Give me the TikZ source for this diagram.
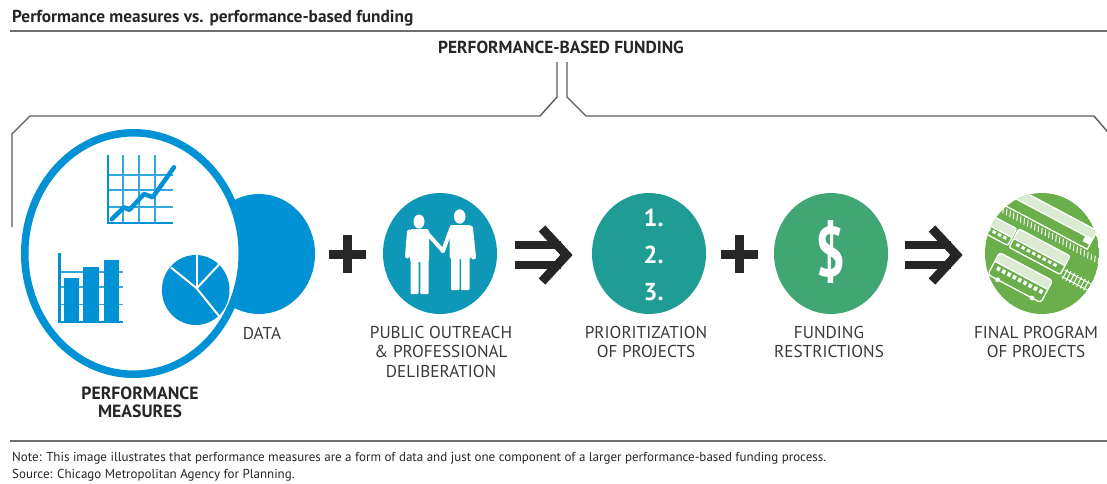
\documentclass[tikz,border=0pt]{standalone}
\usepackage{fontspec}
\newfontfamily\condfont{PT Sans}
\definecolor{pmblue}{HTML}{0092D4}
\definecolor{outreachblue}{HTML}{0E97B6}
\definecolor{priorteal}{HTML}{1F9D95}
\definecolor{fundgreen}{HTML}{40A674}
\definecolor{finalgreen}{HTML}{6BAF4C}
\definecolor{linegray}{HTML}{5A5A5A}
\definecolor{rulegray}{HTML}{6E6E6E}
\definecolor{textgray}{HTML}{3A3A3A}
\definecolor{titlegray}{HTML}{262626}
\tikzset{
  titletext/.style={font=\condfont\bfseries\fontsize{17.3}{19}\selectfont, text=titlegray, inner sep=0pt},
  headtext/.style={font=\condfont\bfseries\fontsize{17.4}{19}\selectfont, text=titlegray, inner sep=0pt},
  lbl/.style={font=\condfont\fontsize{17.2}{19.5}\selectfont, text=textgray, inner sep=0pt, align=center},
  boldlbl/.style={font=\condfont\bfseries\fontsize{17.7}{18}\selectfont, text=titlegray, inner sep=0pt, align=center},
  foot/.style={font=\condfont\fontsize{13}{14}\selectfont, text=titlegray, inner sep=0pt},
  numtext/.style={font=\condfont\bfseries\fontsize{24.5}{25}\selectfont, text=white, inner sep=0pt, anchor=base west},
  rulestyle/.style={draw=rulegray, line width=2.2pt},
  bracket/.style={draw=linegray, line width=1.4pt, line join=miter},
  gridline/.style={draw=pmblue!80, line width=1.6pt},
  trainline/.style={draw=white, line width=1.3pt},
  roof/.style={fill=white!75!finalgreen},
  tie/.style={draw=white, line width=1pt},
  plusbar/.style={fill=black!85},
  arrowbar/.style={fill=black!85},
}
\begin{document}
\begin{tikzpicture}[x=1pt,y=-1pt]
\useasboundingbox (0,0) rectangle (1107,483);

% title and rules
\node[titletext, anchor=base west] (title) at (12,22) {Performance measures vs. performance-based funding};
\draw[rulestyle] (10,31) -- (1107,31);
\draw[rulestyle] (10,441) -- (1107,441);

% bracket spanning the whole process
\node[headtext, anchor=base] (pbf) at (561,53) {PERFORMANCE-BASED FUNDING};
\coordinate (bl0) at (557,62);
\coordinate (br0) at (567,62);
\coordinate (lend) at (12,227);
\coordinate (rend) at (1112,137);
\draw[bracket] (bl0) -- (557,97) -- (540,116) -- (30,116) -- (12,134) -- (lend);
\draw[bracket] (br0) -- (567,97) -- (586,116) -- (1094,116) -- (rend);

% data disc and performance measures ring
\coordinate (data) at (259,254);
\coordinate (pm) at (133.5,253.5);
\fill[pmblue] (data) ellipse [x radius=56, y radius=60];
\draw[draw=pmblue, fill=white, line width=7.5pt] (pm) ellipse [x radius=108.75, y radius=120.75];

% line chart
\foreach \gx in {123,139,155} \draw[gridline] (\gx,155) -- (\gx,223);
\foreach \gy in {175,190,207} \draw[gridline] (108,\gy) -- (173,\gy);
\draw[draw=pmblue, line width=2.4pt] (108,155) -- (108,223) -- (173,223);
\draw[draw=pmblue, line width=4.5pt, line cap=round, line join=round]
  (111.7,219.3) -- (124,207.3) -- (129.3,210) -- (144,194) -- (152.7,197.3) -- (174,167.3);

% bar chart
\foreach \gy in {271.7,286.7,304.3} \draw[gridline] (59,\gy) -- (122.7,\gy);
\fill[pmblue] (64,278.3) rectangle (79,321.7);
\fill[pmblue] (83.3,266.7) rectangle (99,321.7);
\fill[pmblue] (104,260) rectangle (119.3,321.7);
\draw[draw=pmblue, line width=2.4pt] (59.3,252.7) -- (59.3,321.7) -- (122.7,321.7);

% pie chart
\coordinate (pie) at (196.7,288.3);
\fill[pmblue] (195.7,290) ellipse [x radius=33.8, y radius=35];
\draw[draw=white, line width=2pt] (pie) -- (196.7,254);
\draw[draw=white, line width=2pt] (pie) -- (219,264.5);
\draw[draw=white, line width=2pt] (171,267.5) -- (pie) -- (219,316);

\node[lbl, anchor=north] (datalbl) at (262,327) {DATA};
\node[boldlbl, anchor=north] (pmlbl) at (140,387) {PERFORMANCE\\MEASURES};

% plus signs
\foreach \px in {347.5,739.5} {
  \fill[plusbar] (\px-18.5,249.5) rectangle (\px+18.5,258.5);
  \fill[plusbar] (\px-4.5,235) rectangle (\px+4.5,273);
}
% double arrows
\foreach \ax in {515,905} {
  \fill[arrowbar] (\ax,241) rectangle (\ax+46,249.3);
  \fill[arrowbar] (\ax,260.7) rectangle (\ax+46,269);
  \draw[draw=black!85, line width=9pt, line join=miter] (\ax+27,228.5) -- (\ax+51.5,255) -- (\ax+27,281.5);
}

% public outreach
\coordinate (out) at (440,253.5);
\fill[outreachblue] (out) ellipse [x radius=57, y radius=60.5];
\fill[white] (419,221.5) ellipse [x radius=5.5, y radius=7];
\fill[white, rounded corners=2.5pt] (410,229) rectangle (429,262);
\draw[white, line width=5pt, line cap=round] (409.5,232) -- (407.5,256);
\draw[white, line width=4pt, line cap=round] (427,233) -- (443,251);
\fill[white, rounded corners=1pt] (410.5,258) rectangle (418.7,294);
\fill[white, rounded corners=1pt] (420.3,258) rectangle (428.5,294);
\fill[white] (459.7,216.5) ellipse [x radius=5.8, y radius=7.2];
\fill[white, rounded corners=2.5pt] (449.5,225) rectangle (471,259);
\draw[white, line width=5pt, line cap=round] (470.5,228) -- (473.5,257);
\draw[white, line width=4pt, line cap=round] (451,229) -- (443,251);
\fill[white, rounded corners=1pt] (451,255) rectangle (459.5,290);
\fill[white, rounded corners=1pt] (461,255) rectangle (469.5,290);
\node[lbl, anchor=north] (outlbl) at (441,326) {PUBLIC OUTREACH\\\& PROFESSIONAL\\DELIBERATION};

% prioritization
\coordinate (pri) at (649,253.5);
\fill[priorteal] (pri) ellipse [x radius=57, y radius=60.5];
\node[numtext] (n1) at (643.5,226) {1.};
\node[numtext] (n2) at (643.5,263.5) {2.};
\node[numtext] (n3) at (643.5,300.5) {3.};
\node[lbl, anchor=north] (prilbl) at (646,326) {PRIORITIZATION\\OF PROJECTS};

% funding restrictions
\coordinate (fund) at (831,253.5);
\fill[fundgreen] (fund) ellipse [x radius=57, y radius=60.5];
\node[font=\condfont\bfseries\fontsize{70}{70}\selectfont, text=white, inner sep=0pt, xscale=0.76] (dollar) at (831,252) {\$};
\node[lbl, anchor=north] (fundlbl) at (829,326) {FUNDING\\RESTRICTIONS};

% final program of projects
\coordinate (fin) at (1042,253.5);
\begin{scope}
  \clip (fin) ellipse [x radius=57, y radius=60.5];
  \fill[finalgreen] (fin) ellipse [x radius=57, y radius=60.5];
  \begin{scope}[shift={(fin)}, rotate=-28]
    % upper train
    \fill[roof] (-95,-46) rectangle (38,-36);
    \draw[trainline] (-95,-46) rectangle (38,-25);
    \draw[trainline] (-95,-36) -- (30,-36);
    \fill[white] (30,-37) rectangle (38,-30);
    \foreach \t in {-84,-80,...,72} \draw[tie] (\t,-23) -- (\t+2.5,-17);
    % middle train
    \fill[roof, rounded corners=2pt] (-95,-10) rectangle (-34,0);
    \fill[roof, rounded corners=2pt] (-32,-11) rectangle (26,0);
    \draw[trainline, rounded corners=2pt] (-95,-10) rectangle (-34,9);
    \draw[trainline, rounded corners=2pt] (-32,-11) rectangle (26,10);
    \foreach \w in {-90,-84,...,-40} \fill[white] (\w,2) rectangle (\w+3.5,5);
    \foreach \w in {-27,-21,...,20} \fill[white] (\w,2.5) rectangle (\w+3.5,5.5);
    \draw[trainline] (-95,0) -- (-34,0);
    \draw[trainline] (-32,0) -- (26,0);
    \foreach \t in {30,34,...,74} \draw[tie] (\t,2) -- (\t,13);
    \draw[tie] (28,4) -- (76,4);
    \draw[tie] (28,11) -- (76,11);
    % bus
    \fill[roof, rounded corners=3pt] (-38,19) rectangle (22,29);
    \draw[trainline, rounded corners=3pt] (-38,19) rectangle (22,44);
    \foreach \w in {-33,-27,...,16} \fill[white] (\w,32) rectangle (\w+3.5,36);
    \draw[trainline] (-38,29) -- (22,29);
    \fill[white] (-27,44) circle (2.4);
    \fill[white] (12,44) circle (2.4);
  \end{scope}
\end{scope}
\node[lbl, anchor=north] (finlbl) at (1036,326) {FINAL PROGRAM\\OF PROJECTS};

% notes
\node[foot, anchor=base west] (note) at (12,461) {Note: This image illustrates that performance measures are a form of data and just one component of a larger performance-based funding process.};
\node[foot, anchor=base west] (source) at (12,478) {Source: Chicago Metropolitan Agency for Planning.};
\end{tikzpicture}
\end{document}
